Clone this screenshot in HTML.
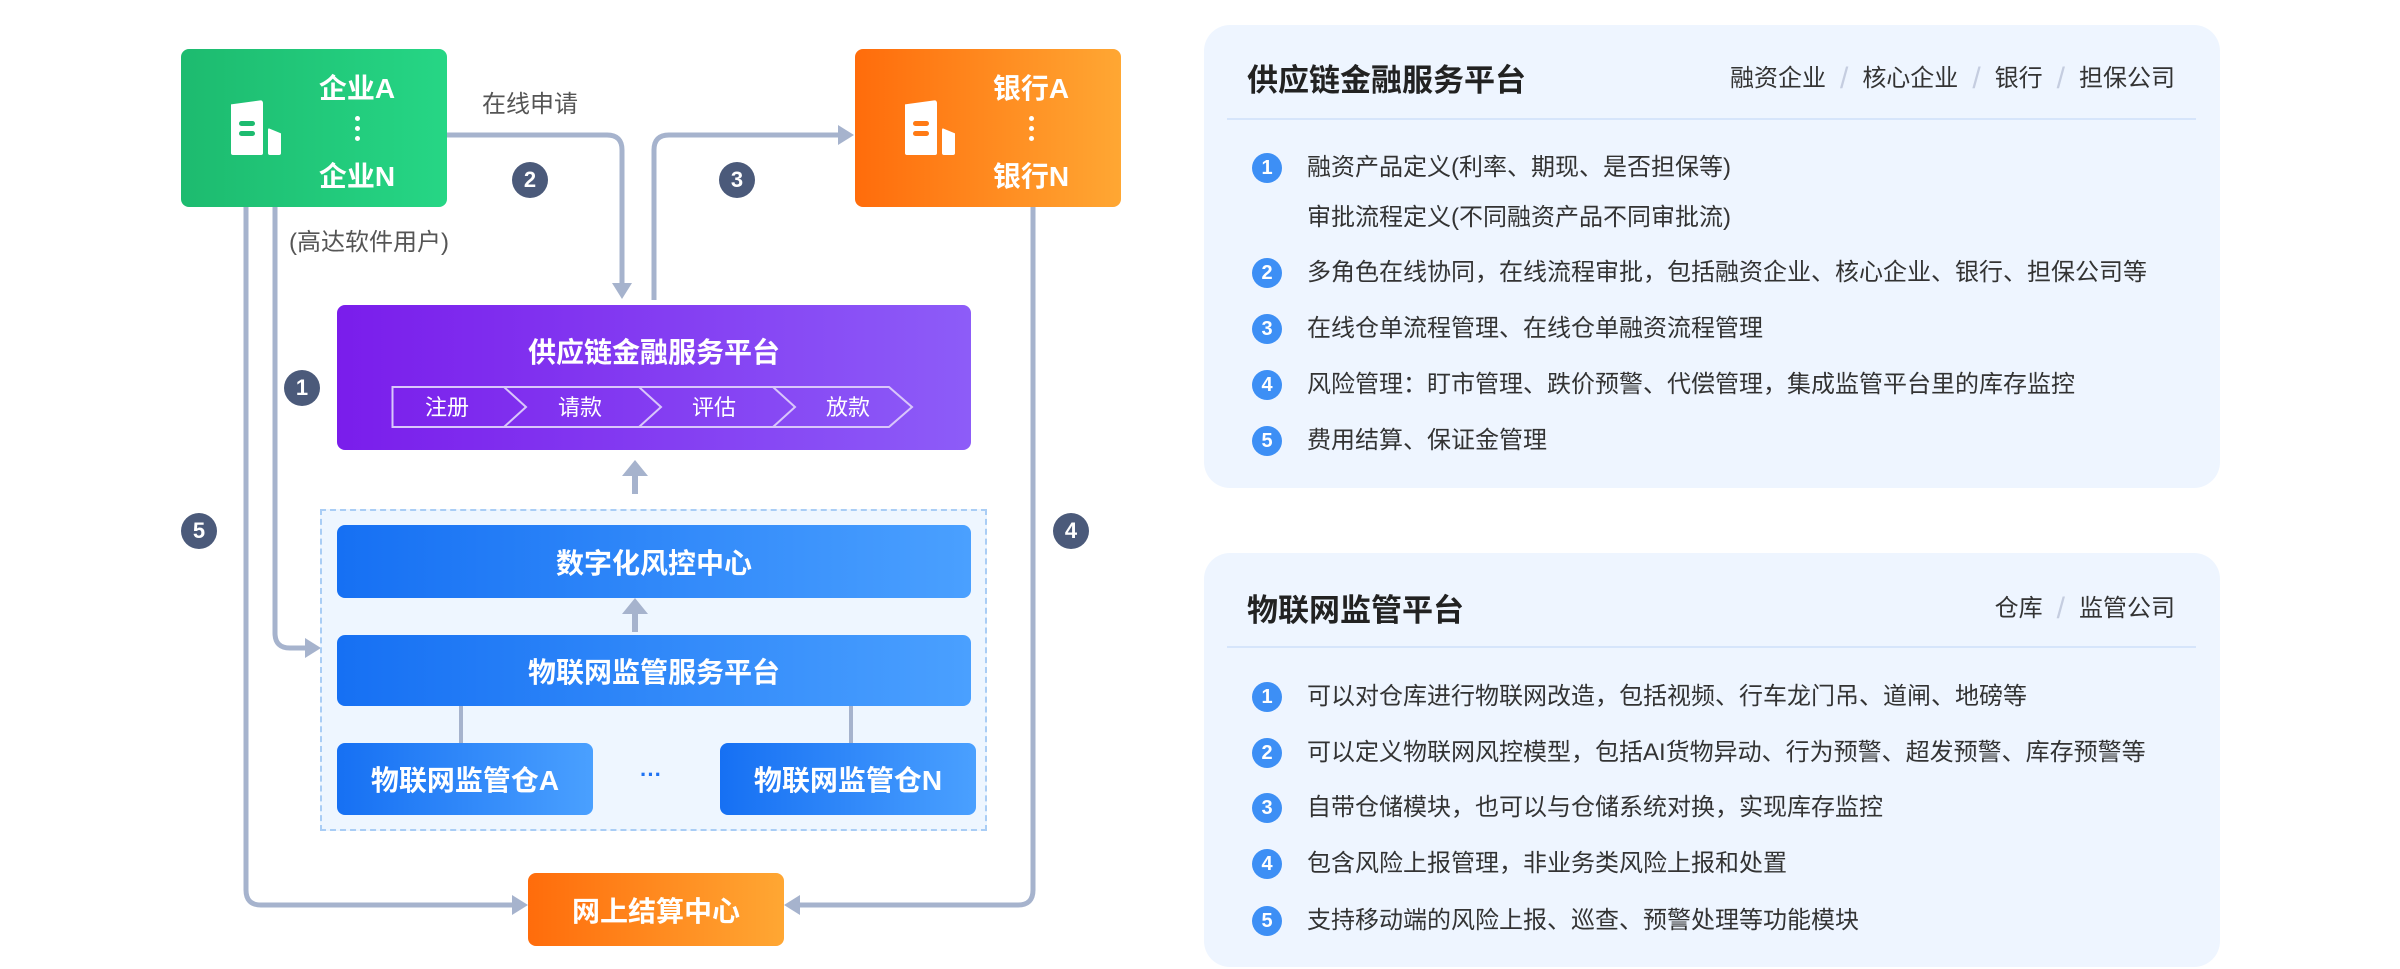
<!DOCTYPE html>
<html><head><meta charset="utf-8"><style>
*{margin:0;padding:0;box-sizing:border-box}
body{width:2400px;height:969px;background:#fff;position:relative;overflow:hidden;font-family:"Liberation Sans","Noto Sans CJK SC",sans-serif}
.a{position:absolute}
.box{position:absolute;border-radius:8px;color:#fff;font-weight:bold;display:flex;align-items:center;justify-content:center}
.blue{background:linear-gradient(90deg,#1670f3,#4aa0ff);font-size:28px}
.badge{position:absolute;width:36px;height:36px;border-radius:50%;background:#4b5a7a;color:#fff;font-weight:bold;font-size:22px;display:flex;align-items:center;justify-content:center}
.panel{position:absolute;left:1204px;width:1016px;background:#eef5ff;border-radius:26px}
.pt{position:absolute;left:43px;font-size:31px;font-weight:bold;color:#222}
.tags{position:absolute;right:45px;font-size:24px;color:#333;white-space:nowrap}
.tags i{font-style:normal;color:#c5cde0;margin:0 14px;font-size:30px;vertical-align:-2px}
.div{position:absolute;left:23px;right:24px;height:2px;background:#d6e5fb}
.it{position:absolute;left:103px;font-size:24px;color:#333;white-space:nowrap;line-height:30px}
.nb{position:absolute;left:48px;width:30px;height:30px;border-radius:50%;background:#3d8ff5;color:#fff;font-size:20px;font-weight:bold;display:flex;align-items:center;justify-content:center}
.dot{position:absolute;left:174px;width:5px;height:5px;border-radius:50%;background:#fff}
</style></head><body>

<svg class="a" style="left:0;top:0" width="1200" height="969">
<g fill="none" stroke="#a6b3cd" stroke-width="5">
<path d="M246,207 V890 Q246,905 261,905 H512"/>
<path d="M275,207 V633 Q275,648 290,648 H305"/>
<path d="M447,135 H607 Q622,135 622,150 V283"/>
<path d="M654,300 V150 Q654,135 669,135 H838"/>
<path d="M1033,207 V890 Q1033,905 1018,905 H800"/>
<path d="M635,474 V494" stroke-width="6"/>
</g>
<g fill="#a6b3cd">
<path d="M512,895 L528,905 L512,915 Z"/>
<path d="M305,638 L321,648 L305,658 Z"/>
<path d="M612,283 L622,299 L632,283 Z"/>
<path d="M838,125 L854,135 L838,145 Z"/>
<path d="M800,895 L784,905 L800,915 Z"/>
<path d="M622,476 L635,460 L648,476 Z"/>
</g>
</svg>

<!-- green -->
<div class="box" style="left:181px;top:49px;width:266px;height:158px;background:linear-gradient(90deg,#1dbb6f,#26d685);display:block">
 <div class="a" style="left:50px;top:51px;width:32px;height:55px;background:#fff;border-radius:3px 3px 2px 2px;clip-path:polygon(0 8%,100% 0,100% 100%,0 100%)"></div>
 <div class="a" style="left:58px;top:72px;width:16px;height:5px;background:#1dbb6f;border-radius:3px"></div>
 <div class="a" style="left:58px;top:82px;width:16px;height:5px;background:#1dbb6f;border-radius:3px"></div>
 <div class="a" style="left:87px;top:79px;width:13px;height:27px;background:#fff;border-radius:2px;clip-path:polygon(0 0,100% 20%,100% 100%,0 100%)"></div>
 <div class="a" style="left:126px;top:18px;width:100px;text-align:center;font-size:28px">企业A</div>
 <div class="dot" style="top:67px"></div><div class="dot" style="top:77px"></div><div class="dot" style="top:87px"></div>
 <div class="a" style="left:126px;top:106px;width:100px;text-align:center;font-size:28px">企业N</div>
</div>
<!-- orange bank -->
<div class="box" style="left:855px;top:49px;width:266px;height:158px;background:linear-gradient(90deg,#ff6c0b,#ffa733);display:block">
 <div class="a" style="left:50px;top:51px;width:32px;height:55px;background:#fff;border-radius:3px 3px 2px 2px;clip-path:polygon(0 8%,100% 0,100% 100%,0 100%)"></div>
 <div class="a" style="left:58px;top:72px;width:16px;height:5px;background:#ff7a15;border-radius:3px"></div>
 <div class="a" style="left:58px;top:82px;width:16px;height:5px;background:#ff7a15;border-radius:3px"></div>
 <div class="a" style="left:87px;top:79px;width:13px;height:27px;background:#fff;border-radius:2px;clip-path:polygon(0 0,100% 20%,100% 100%,0 100%)"></div>
 <div class="a" style="left:126px;top:18px;width:100px;text-align:center;font-size:28px">银行A</div>
 <div class="dot" style="top:67px"></div><div class="dot" style="top:77px"></div><div class="dot" style="top:87px"></div>
 <div class="a" style="left:126px;top:106px;width:100px;text-align:center;font-size:28px">银行N</div>
</div>

<div class="a" style="left:482px;top:84px;font-size:24px;color:#555">在线申请</div>
<div class="a" style="left:289px;top:222px;font-size:24px;color:#555">(高达软件用户)</div>

<!-- purple -->
<div class="box" style="left:337px;top:305px;width:634px;height:145px;background:linear-gradient(90deg,#7a1deb,#8d5cf8);display:block">
 <div class="a" style="left:0;top:26px;width:100%;text-align:center;font-size:28px">供应链金融服务平台</div>
</div>
<svg class="a" style="left:380px;top:380px" width="560" height="60">
<path d="M12.5,7 H124 L146,27 L124,47 H12.5 Z M124,7 H259 L281,27 L259,47 M259,7 H393 L415,27 L393,47 M393,7 H509 L532,27 L509,47 H124" fill="none" stroke="#d9c6fb" stroke-width="2"/>
<g fill="#fff" font-size="22" text-anchor="middle" font-family="Liberation Sans,Noto Sans CJK SC,sans-serif"><text x="67" y="35">注册</text><text x="200" y="35">请款</text><text x="334" y="35">评估</text><text x="468" y="35">放款</text></g>
</svg>

<!-- dashed container -->
<div class="a" style="left:320px;top:509px;width:667px;height:322px;border:2px dashed #a9cdf5;background:#eef6ff"></div>
<div class="box blue" style="left:337px;top:525px;width:634px;height:73px">数字化风控中心</div>
<div class="box blue" style="left:337px;top:635px;width:634px;height:71px">物联网监管服务平台</div>
<div class="box blue" style="left:337px;top:743px;width:256px;height:72px">物联网监管仓A</div>
<div class="box blue" style="left:720px;top:743px;width:256px;height:72px">物联网监管仓N</div>
<div class="a" style="left:640px;top:762px;font-size:22px;color:#1e72f3;font-weight:bold">···</div>
<svg class="a" style="left:0;top:0" width="1000" height="969"><path d="M461,706 V743 M851,706 V743" stroke="#a6b3cd" stroke-width="4"/><path d="M635,614 V632" stroke="#a6b3cd" stroke-width="6"/><path d="M622,614 L635,598 L648,614 Z" fill="#a6b3cd"/></svg>

<div class="box" style="left:528px;top:873px;width:256px;height:73px;background:linear-gradient(90deg,#ff6c0b,#ffa733);font-size:28px">网上结算中心</div>

<div class="badge" style="left:512px;top:162px">2</div>
<div class="badge" style="left:719px;top:162px">3</div>
<div class="badge" style="left:284px;top:370px">1</div>
<div class="badge" style="left:181px;top:513px">5</div>
<div class="badge" style="left:1053px;top:513px">4</div>

<!-- panel 1 -->
<div class="panel" style="top:25px;height:463px">
 <div class="pt" style="top:30px">供应链金融服务平台</div>
 <div class="tags" style="top:33px">融资企业<i>/</i>核心企业<i>/</i>银行<i>/</i>担保公司</div>
 <div class="div" style="top:93px"></div>
 <div class="nb" style="top:128px">1</div><div class="it" style="top:128px">融资产品定义(利率、期现、是否担保等)</div>
 <div class="it" style="top:178px">审批流程定义(不同融资产品不同审批流)</div>
 <div class="nb" style="top:233px">2</div><div class="it" style="top:233px">多角色在线协同，在线流程审批，包括融资企业、核心企业、银行、担保公司等</div>
 <div class="nb" style="top:289px">3</div><div class="it" style="top:289px">在线仓单流程管理、在线仓单融资流程管理</div>
 <div class="nb" style="top:345px">4</div><div class="it" style="top:345px">风险管理：盯市管理、跌价预警、代偿管理，集成监管平台里的库存监控</div>
 <div class="nb" style="top:401px">5</div><div class="it" style="top:401px">费用结算、保证金管理</div>
</div>
<!-- panel 2 -->
<div class="panel" style="top:553px;height:414px">
 <div class="pt" style="top:32px">物联网监管平台</div>
 <div class="tags" style="top:35px">仓库<i>/</i>监管公司</div>
 <div class="div" style="top:93px"></div>
 <div class="nb" style="top:129px">1</div><div class="it" style="top:129px">可以对仓库进行物联网改造，包括视频、行车龙门吊、道闸、地磅等</div>
 <div class="nb" style="top:185px">2</div><div class="it" style="top:185px">可以定义物联网风控模型，包括AI货物异动、行为预警、超发预警、库存预警等</div>
 <div class="nb" style="top:240px">3</div><div class="it" style="top:240px">自带仓储模块，也可以与仓储系统对换，实现库存监控</div>
 <div class="nb" style="top:296px">4</div><div class="it" style="top:296px">包含风险上报管理，非业务类风险上报和处置</div>
 <div class="nb" style="top:353px">5</div><div class="it" style="top:353px">支持移动端的风险上报、巡查、预警处理等功能模块</div>
</div>
</body></html>
